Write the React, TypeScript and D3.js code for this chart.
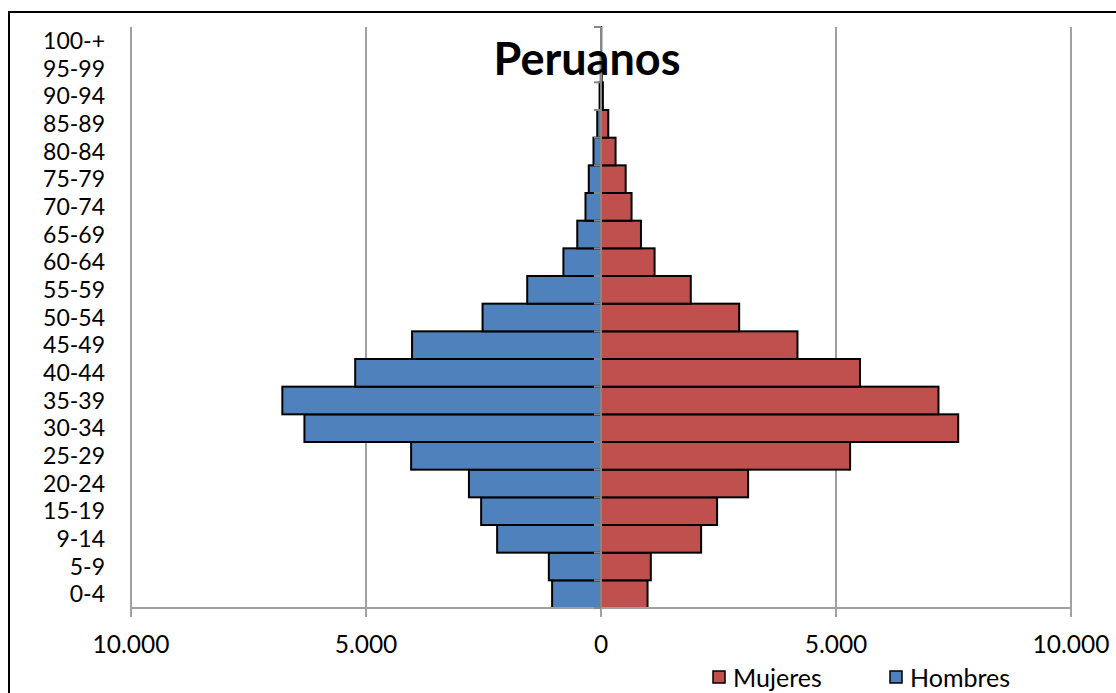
import React from "react";
import * as d3 from "d3";

const categories = ["0-4","5-9","9-14","15-19","20-24","25-29","30-34","35-39","40-44","45-49","50-54","55-59","60-64","65-69","70-74","75-79","80-84","85-89","90-94","95-99","100-+"];
const hombres = [1040,1110,2210,2550,2810,4040,6310,6780,5230,4020,2520,1570,800,505,330,260,160,80,30,5,0];
const mujeres = [990,1060,2130,2470,3130,5300,7600,7180,5510,4180,2940,1910,1140,850,650,525,310,155,40,15,5];
const xTicks = [-10000, -5000, 0, 5000, 10000];
const title = "Peruanos";
const seriesNames = ["Mujeres", "Hombres"];
const colors = { Mujeres: "#C0504D", Hombres: "#4F81BD" };

const W = 1116, H = 693;
const FONT = "Lato, 'Open Sans', sans-serif";

export default function App() {
  const x = d3.scaleLinear().domain([-10000, 10000]).range([131, 1071]);
  const y = d3.scaleBand<string>().domain([...categories].reverse()).range([27, 608]).padding(0);
  const loc = d3.formatLocale({ decimal: ",", thousands: ".", grouping: [3], currency: ["", ""] });
  const fmt = loc.format(",");
  const x0 = x(0);
  const bw = y.bandwidth();
  const boundaries = d3.range(categories.length + 1).map(i => 27 + i * bw);

  return (
    <svg width={W} height={H} style={{ position: "absolute", left: 0, top: 0, background: "#fff" }}>
      <rect x={9} y={12} width={1200} height={800} fill="#fff" stroke="#000" strokeWidth={2} />
      {/* gridlines */}
      {xTicks.filter(t => t !== 0).map(t => (
        <line key={"g" + t} x1={x(t)} x2={x(t)} y1={27} y2={608} stroke="#a0a0a0" strokeWidth={2} />
      ))}
      {/* bars */}
      {categories.map((c, i) => (
        <g key={c}>
          <rect x={x(-hombres[i])} y={y(c)!} width={x0 - x(-hombres[i])} height={bw}
            fill={colors.Hombres} stroke="#000" strokeWidth={2} />
          <rect x={x0} y={y(c)!} width={x(mujeres[i]) - x0} height={bw}
            fill={colors.Mujeres} stroke="#000" strokeWidth={2} />
        </g>
      ))}
      {/* x axis */}
      <line x1={x(-10000)} x2={x(10000)} y1={608} y2={608} stroke="#a0a0a0" strokeWidth={2} />
      {xTicks.map(t => (
        <g key={"t" + t}>
          <line x1={x(t)} x2={x(t)} y1={608} y2={617} stroke="#a0a0a0" strokeWidth={2} />
          <text x={x(t)} y={653} textAnchor="middle" fontFamily={FONT} fontSize={24.5} fill="#000">
            {fmt(Math.abs(t))}
          </text>
        </g>
      ))}
      {/* category axis at center */}
      <line x1={x0} x2={x0} y1={27} y2={608} stroke="#868686" strokeWidth={2} />
      {boundaries.map((b, i) => (
        <line key={"b" + i} x1={x0 - 7} x2={x0} y1={b} y2={b} stroke="#868686" strokeWidth={2} />
      ))}
      {/* category labels */}
      {categories.map(c => (
        <text key={"l" + c} x={105} y={y(c)! + bw / 2} dy="0.35em" textAnchor="end"
          fontFamily={FONT} fontSize={23} fill="#000">{c}</text>
      ))}
      {/* title */}
      <text x={587} y={75} textAnchor="middle" fontFamily={FONT} fontWeight="bold" fontSize={45} fill="#000">{title}</text>
      {/* legend */}
      {seriesNames.map((s, i) => {
        const lx = i === 0 ? 713 : 890;
        return (
          <g key={s}>
            <rect x={lx} y={671} width={12} height={12} fill={colors[s as keyof typeof colors]} stroke="#000" strokeWidth={1.5} />
            <text x={lx + 20} y={687} fontFamily={FONT} fontSize={25} fill="#000">{s}</text>
          </g>
        );
      })}
    </svg>
  );
}
